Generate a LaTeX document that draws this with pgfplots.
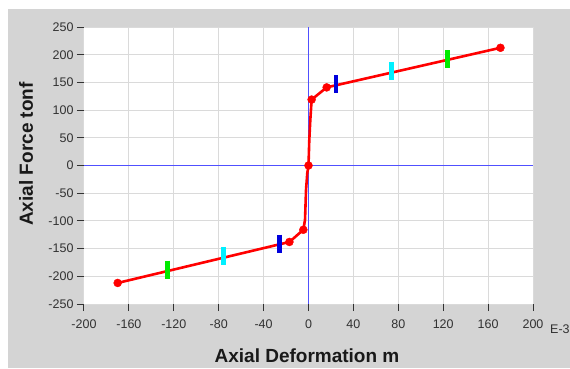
\documentclass[border=0pt]{standalone}
\usepackage{pgfplots}
\pgfplotsset{compat=1.18}
\usepackage{fontspec}
\setmainfont{Liberation Sans}
\definecolor{bg}{RGB}{212,212,212}
\definecolor{gridc}{RGB}{218,218,218}
\definecolor{axblue}{RGB}{80,80,255}
\definecolor{barblue}{RGB}{0,0,220}
\definecolor{bargreen}{RGB}{0,235,0}
\definecolor{barcyan}{RGB}{0,240,255}
\definecolor{tickc}{RGB}{50,50,50}
\begin{document}
\begin{tikzpicture}[x=1pt,y=1pt]
\path[use as bounding box] (0,0) rectangle (570,368);
\fill[white] (0,0) rectangle (570,368);
\fill[bg] (8,0) rectangle (570,359);
\begin{axis}[at={(84pt,64pt)}, anchor=south west, scale only axis,
  width=449pt, height=277pt,
  xmin=-200, xmax=200, ymin=-250, ymax=250,
  xtick={-200,-160,...,200}, ytick={-250,-200,...,250},
  grid=major, major grid style={draw=gridc, line width=1pt},
  axis line style={draw=none},
  tick align=outside, xtick pos=bottom, ytick pos=left,
  major tick length=7pt, tick style={tickc, line width=1pt},
  axis background/.style={fill=white},
  ticklabel style={font=\fontsize{12.5}{14}\selectfont, text=tickc},
  xticklabel style={yshift=-5pt},
  /pgf/number format/assume math mode=true,
  xlabel={Axial Deformation m}, ylabel={Axial Force tonf},
  xlabel style={at={(axis description cs:0.4967,-0.1877)}, anchor=center, font=\fontsize{19}{22}\selectfont\bfseries, text=black!90},
  ylabel style={at={(axis description cs:-0.1292,0.5415)}, anchor=center, font=\fontsize{19}{22}\selectfont\bfseries, text=black!90},
  clip=false,
]
\addplot[draw=axblue, line width=1.2pt, no marks, forget plot] coordinates {(0,-250) (0,250)};
\addplot[draw=axblue, line width=1.2pt, no marks, forget plot] coordinates {(-200,0) (200,0)};
\addplot[draw=red, line width=2.6pt, no marks, line join=round] coordinates {
  (-170,-212) (-17,-138) (-4.6,-116) (-3.1,-98) (-2.2,-44) (-1.1,-14) (0,0)
  (0.7,46) (1.6,82) (2.8,119) (16.2,141) (171,212.5)};
\addplot[only marks, mark=*, mark size=4pt, red] coordinates {
  (-170,-212) (-17,-138) (-4.6,-116) (0,0) (2.8,119) (16.2,141) (171,212.5)};
\addplot[only marks, mark=|, mark size=9pt, mark options={line width=4.5pt, draw=bargreen}] coordinates {(-125.4,-188) (123.7,192)};
\addplot[only marks, mark=|, mark size=9pt, mark options={line width=4.5pt, draw=barcyan}] coordinates {(-75.9,-163) (74.1,170.6)};
\addplot[only marks, mark=|, mark size=9pt, mark options={line width=4.5pt, draw=barblue}] coordinates {(-26,-141) (24.5,147)};
\node[anchor=base west, font=\fontsize{12.5}{14}\selectfont, text=tickc, inner sep=0pt] at (axis description cs:1.0379,-0.105) {E-3};
\end{axis}
\end{tikzpicture}
\end{document}
